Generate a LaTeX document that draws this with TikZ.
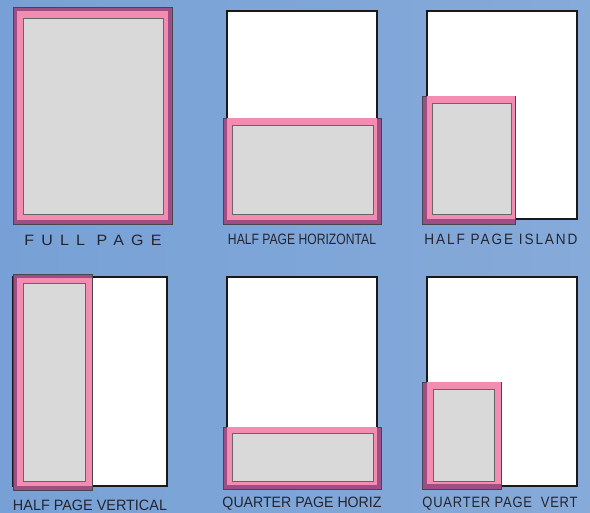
\documentclass[tikz,border=0pt]{standalone}
\usepackage{fontspec}
\setmainfont{Liberation Sans}
\usepackage{graphicx}
\usetikzlibrary{positioning}
\definecolor{bgblue}{HTML}{77A1D6}
\definecolor{bgblueb}{HTML}{86AAD9}
\definecolor{adpink}{HTML}{F28DB1}
\definecolor{admauve}{HTML}{9C4E85}
\definecolor{adgray}{HTML}{D9D9D9}
\definecolor{inkdark}{HTML}{25252F}
\tikzset{
  page/.style={draw=black!90, line width=2.2pt, fill=white},
  adframe/.style={draw=inkdark!85, line width=0.8pt, fill=admauve},
  adpad/.style={fill=adpink},
  adarea/.style={draw=black!60, line width=0.9pt, fill=adgray},
  caption/.style={font=\fontsize{15}{15}\selectfont, text=inkdark, inner sep=0pt}
}
\newcommand{\fitcap}[2]{\resizebox{#1pt}{\height}{#2}}

\begin{document}
\begin{tikzpicture}[x=1pt, y=-1pt]
  \shade[left color=bgblue, right color=bgblueb] (0,0) rectangle (590,513);
  \useasboundingbox (0,0) rectangle (590,513);
  % blank pages behind the ads
  \foreach \xa/\ya/\xb/\yb in {227/11/377/219, 427/11/577/219,
      13/277/167/486, 227/277/377/486, 427/277/577/486} {
    \path[page] (\xa,\ya) rectangle (\xb,\yb);
  }
  % ad: outer frame / inset pad / copy area
  \foreach \xa/\ya/\xb/\yb/\insL/\insT/\insR/\insB/\ga/\gb/\gc/\gd in {
      13/7/172/224/4/4/4/4/23/18/163/214,
      223/118/381/224/4/0/4/4/232/125/373/214,
      422/96/515/224/5/0/0/5/432/103/511/214,
      13/274/92/490/4/4/0/4/23/283/85/481,
      223/427/381/489/4/0/4/4/232/433/373/481,
      422/382/501/489/5/0/0/5/433/389/494/481} {
    \path[adframe] (\xa,\ya) rectangle (\xb,\yb);
    \path[adpad] (\xa+\insL+0.4,\ya+\insT+0.4) rectangle (\xb-\insR-0.4,\yb-\insB-0.4);
    \path[adarea] (\ga,\gb) rectangle (\gc,\gd);
  }
  % captions
  \node[caption] (capfull) at (93,240)
    {\fitcap{137}{\addfontfeature{LetterSpace=45}FULL PAGE}};
  \node[caption] (caphalfh) at (302,239) {\fitcap{148}{HALF PAGE HORIZONTAL}};
  \node[caption] (caphalfi) at (501,239)
    {\fitcap{153}{\addfontfeature{LetterSpace=14}HALF PAGE ISLAND}};
  \node[caption] (caphalfv) at (90,505) {\fitcap{154}{HALF PAGE VERTICAL}};
  \node[caption] (capquarth) at (302,504) {\fitcap{159}{QUARTER PAGE HORIZ}};
  \node[caption] (capquartv) at (500,504)
    {\fitcap{155}{\addfontfeature{LetterSpace=6}QUARTER PAGE\ \ VERT}};
\end{tikzpicture}
\end{document}
